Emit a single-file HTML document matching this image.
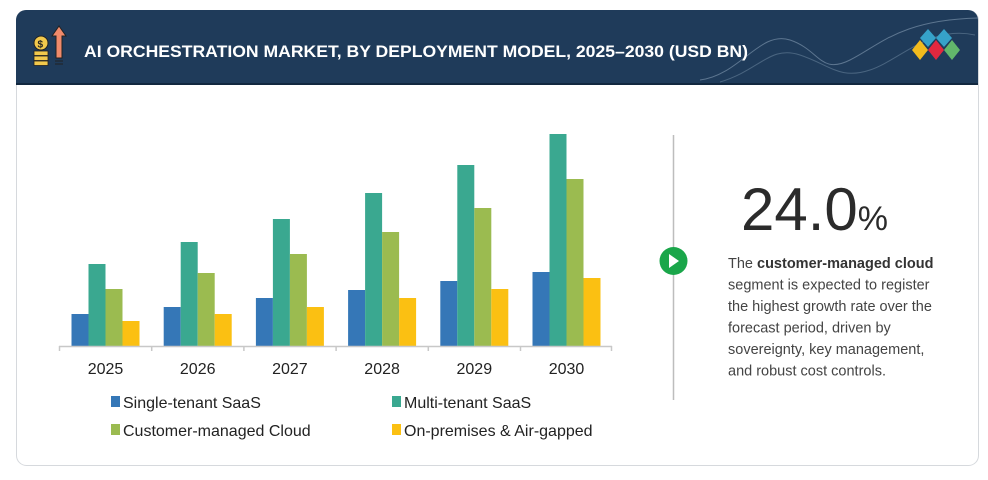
<!DOCTYPE html>
<html><head><meta charset="utf-8"><style>
html,body{margin:0;padding:0;background:#fff;}
body{width:988px;height:475px;overflow:hidden;font-family:"Liberation Sans",sans-serif;}
</style></head><body>
<svg width="988" height="475" viewBox="0 0 988 475" xmlns="http://www.w3.org/2000/svg" font-family="Liberation Sans, sans-serif">
<rect x="16.5" y="10.5" width="962" height="455" rx="10" fill="#fff" stroke="#d6d9dd"/>
<path d="M16 84 V20 a10 10 0 0 1 10 -10 H968 a10 10 0 0 1 10 10 V84 Z" fill="#1f3b5a"/>
<line x1="16" y1="84" x2="978" y2="84" stroke="#12283f" stroke-width="2"/>
<path d="M700 80 C740 75 760 30 790 40 C820 50 820 75 850 60 C880 45 900 20 978 18" stroke="#5d7690" fill="none" stroke-width="1"/>
<path d="M720 82 C760 70 770 45 800 55 C830 65 840 80 870 70 C900 60 930 25 975 35" stroke="#4a6580" fill="none" stroke-width="1"/>
<!-- icon -->
<circle cx="41" cy="43" r="7" fill="#f2c94c" stroke="#222"/>
<text x="37.5" y="47.5" font-size="10" font-weight="bold" fill="#222">$</text>
<rect x="34" y="51" width="14" height="4.5" fill="#f2c94c" stroke="#222" stroke-width="0.8"/>
<rect x="34" y="56" width="14" height="4.5" fill="#f2c94c" stroke="#222" stroke-width="0.8"/>
<rect x="34" y="61" width="14" height="4.5" fill="#f2c94c" stroke="#222" stroke-width="0.8"/>
<path d="M56 58 V36 h-4 l7 -10 l7 10 h-4 V58 Z" fill="#f08a6b" stroke="#222"/>
<line x1="55" y1="61" x2="63" y2="61" stroke="#222"/><line x1="55" y1="64" x2="63" y2="64" stroke="#222"/>
<text x="84" y="57" font-size="17" font-weight="bold" fill="#fff" textLength="664" lengthAdjust="spacingAndGlyphs">AI ORCHESTRATION MARKET, BY DEPLOYMENT MODEL, 2025–2030 (USD BN)</text>
<!-- diamonds -->
<path d="M928 29 l8 9 l-8 9 l-8 -9 Z" fill="#36a2c9"/>
<path d="M944 29 l8 9 l-8 9 l-8 -9 Z" fill="#36a2c9"/>
<path d="M920 40 l8 10 l-8 10 l-8 -10 Z" fill="#f2bb1d"/>
<path d="M936 40 l8 10 l-8 10 l-8 -10 Z" fill="#e2283f"/>
<path d="M952 40 l8 10 l-8 10 l-8 -10 Z" fill="#62b76b"/>
<g>
<rect x="71.5" y="314" width="17" height="32" fill="#3577b7"/><rect x="88.5" y="264" width="17" height="82" fill="#3aa890"/><rect x="105.5" y="289" width="17" height="57" fill="#9bbb50"/><rect x="122.5" y="321" width="17" height="25" fill="#fbc012"/>
<rect x="163.7" y="307" width="17" height="39" fill="#3577b7"/><rect x="180.7" y="242" width="17" height="104" fill="#3aa890"/><rect x="197.7" y="273" width="17" height="73" fill="#9bbb50"/><rect x="214.7" y="314" width="17" height="32" fill="#fbc012"/>
<rect x="255.9" y="298" width="17" height="48" fill="#3577b7"/><rect x="272.9" y="219" width="17" height="127" fill="#3aa890"/><rect x="289.9" y="254" width="17" height="92" fill="#9bbb50"/><rect x="306.9" y="307" width="17" height="39" fill="#fbc012"/>
<rect x="348.1" y="290" width="17" height="56" fill="#3577b7"/><rect x="365.1" y="193" width="17" height="153" fill="#3aa890"/><rect x="382.1" y="232" width="17" height="114" fill="#9bbb50"/><rect x="399.1" y="298" width="17" height="48" fill="#fbc012"/>
<rect x="440.3" y="281" width="17" height="65" fill="#3577b7"/><rect x="457.3" y="165" width="17" height="181" fill="#3aa890"/><rect x="474.3" y="208" width="17" height="138" fill="#9bbb50"/><rect x="491.3" y="289" width="17" height="57" fill="#fbc012"/>
<rect x="532.5" y="272" width="17" height="74" fill="#3577b7"/><rect x="549.5" y="134" width="17" height="212" fill="#3aa890"/><rect x="566.5" y="179" width="17" height="167" fill="#9bbb50"/><rect x="583.5" y="278" width="17" height="68" fill="#fbc012"/>
</g>
<g stroke="#c8c8c8" stroke-width="1.5">
<line x1="59" y1="346.5" x2="612" y2="346.5"/>
<line x1="59.5" y1="346" x2="59.5" y2="351"/><line x1="151.7" y1="346" x2="151.7" y2="351"/><line x1="243.9" y1="346" x2="243.9" y2="351"/><line x1="336.1" y1="346" x2="336.1" y2="351"/><line x1="428.3" y1="346" x2="428.3" y2="351"/><line x1="520.5" y1="346" x2="520.5" y2="351"/><line x1="611.5" y1="346" x2="611.5" y2="351"/>
</g>
<g font-size="16" fill="#222" text-anchor="middle">
<text x="105.5" y="374">2025</text><text x="197.7" y="374">2026</text><text x="289.9" y="374">2027</text><text x="382.1" y="374">2028</text><text x="474.3" y="374">2029</text><text x="566.5" y="374">2030</text>
</g>
<g font-size="16" fill="#222">
<rect x="111" y="396" width="9" height="11" fill="#3577b7"/><text x="123" y="408">Single-tenant SaaS</text>
<rect x="392" y="396" width="9" height="11" fill="#3aa890"/><text x="404" y="408">Multi-tenant SaaS</text>
<rect x="111" y="424" width="9" height="11" fill="#9bbb50"/><text x="123" y="436">Customer-managed Cloud</text>
<rect x="392" y="424" width="9" height="11" fill="#fbc012"/><text x="404" y="436">On-premises &amp; Air-gapped</text>
</g>
<line x1="673.5" y1="135" x2="673.5" y2="400" stroke="#bdbdbd" stroke-width="1.5"/>
<circle cx="673.5" cy="261" r="14" fill="#1aa64a"/>
<path d="M669 254 l10 7 l-10 7 Z" fill="#fff"/>
<text x="741" y="230" font-size="60" fill="#2b2b2b">24.0<tspan font-size="34">%</tspan></text>
<g font-size="14.5" fill="#444">
<text x="728" y="268">The <tspan font-weight="bold" fill="#333">customer-managed cloud</tspan></text>
<text x="728" y="289.5">segment is expected to register</text>
<text x="728" y="311">the highest growth rate over the</text>
<text x="728" y="332.5">forecast period, driven by</text>
<text x="728" y="354">sovereignty, key management,</text>
<text x="728" y="375.5">and robust cost controls.</text>
</g>
</svg>
</body></html>
